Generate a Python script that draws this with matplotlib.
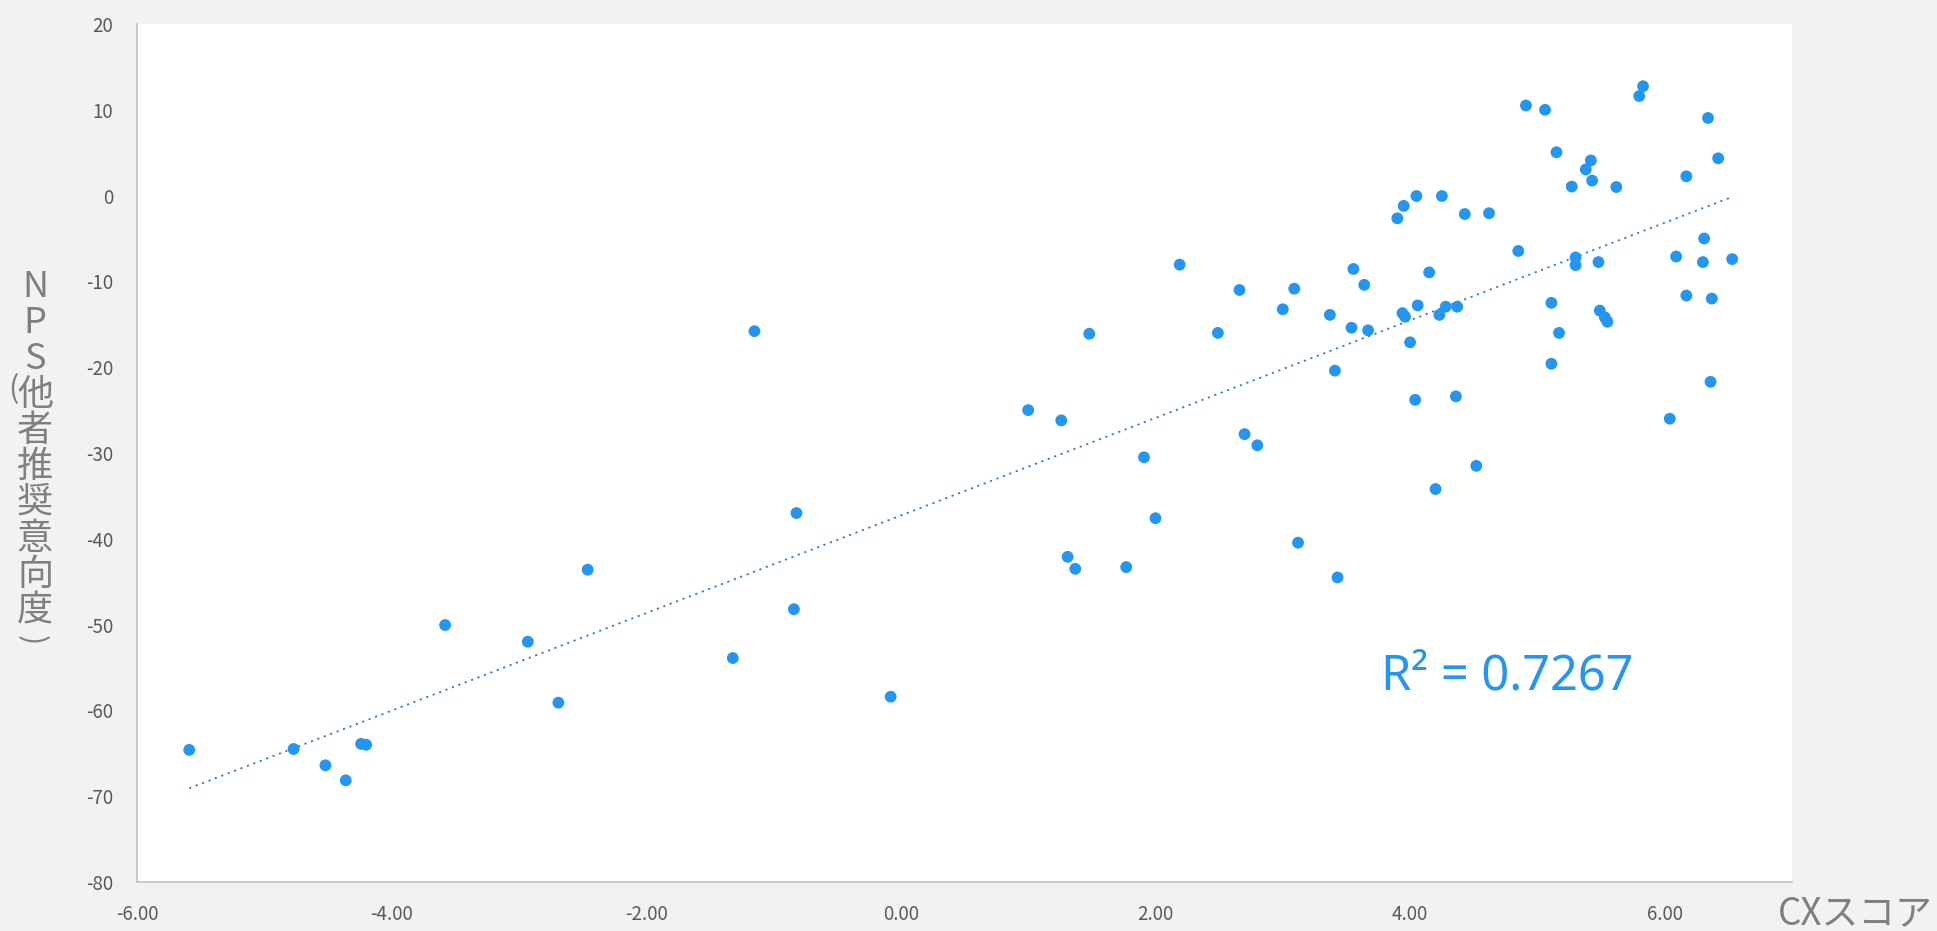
import numpy as np
import matplotlib
matplotlib.use("Agg")
import matplotlib.pyplot as plt
from matplotlib.ticker import FixedLocator, FuncFormatter

plt.rcParams['font.family'] = ['Noto Sans CJK JP', 'DejaVu Sans']
plt.rcParams['axes.unicode_minus'] = False

# CX score vs NPS per respondent group
cx_score = [
    -5.59, -4.77, -4.52, -4.36, -4.24, -4.20, -3.58, -2.93, -2.69, -2.46,
    -1.32, -1.15, -0.82, -0.84, -0.08,
    1.00, 1.26, 1.31, 1.37, 1.48, 1.77, 1.91, 2.00, 2.19, 2.49,
    2.66, 2.70, 2.80, 3.00, 3.09, 3.12, 3.37, 3.41, 3.43,
    3.54, 3.555, 3.64, 3.67, 3.90, 3.94, 3.96, 3.95, 4.00, 4.04,
    4.05, 4.06, 4.15, 4.20, 4.23, 4.25, 4.28, 4.36, 4.37, 4.43,
    4.52, 4.62, 4.85, 4.91, 5.06, 5.11, 5.11, 5.15, 5.17, 5.27,
    5.30, 5.30, 5.38, 5.42, 5.43, 5.48, 5.49, 5.53, 5.55, 5.62,
    5.80, 5.83, 6.04, 6.09, 6.17, 6.17, 6.30, 6.31, 6.34, 6.36,
    6.37, 6.42, 6.53,
]
nps = [
    -64.6, -64.5, -66.4, -68.15, -63.9, -64.0, -50.05, -52.0, -59.1, -43.6,
    -53.9, -15.8, -37.0, -48.2, -58.4,
    -25.0, -26.2, -42.1, -43.5, -16.1, -43.3, -30.5, -37.6, -8.05, -16.0,
    -11.0, -27.8, -29.1, -13.25, -10.85, -40.45, -13.9, -20.4, -44.5,
    -15.4, -8.55, -10.4, -15.7, -2.65, -13.7, -14.1, -1.2, -17.1, -23.8,
    -0.05, -12.8, -8.95, -34.2, -13.9, -0.05, -12.95, -23.4, -12.95, -2.15,
    -31.5, -2.05, -6.45, 10.5, 10.0, -12.5, -19.6, 5.05, -16.0, 1.05,
    -7.2, -8.1, 3.05, 4.1, 1.75, -7.75, -13.4, -14.2, -14.7, 1.0,
    11.6, 12.75, -26.0, -7.1, 2.25, -11.65, -7.75, -5.0, 9.05, -21.7,
    -12.0, 4.35, -7.4,
]
r2_label = "R² = 0.7267"
x_ticks = [-6, -4, -2, 0, 2, 4, 6]
y_ticks = [-80, -70, -60, -50, -40, -30, -20, -10, 0, 10, 20]

W, H = 1937, 931
bg = '#F1F2F4'
dot = '#2196F3'
tick_col = '#595959'
label_col = '#7F7F7F'

fig = plt.figure(figsize=(W / 100, H / 100), dpi=100, facecolor=bg)
ax = fig.add_axes([137 / W, 1 - 882 / H, (1792 - 137) / W, (882 - 24) / H])
ax.set_facecolor('white')

ax.scatter(cx_score, nps, s=72, color=dot, edgecolors='none', zorder=3)

# linear trend over the data range
slope, icpt = np.polyfit(cx_score, nps, 1)
xs = np.array([min(cx_score), max(cx_score)])
ax.plot(xs, slope * xs + icpt, color='#2F80C8', lw=1.3,
        linestyle=(0, (1.2, 2.6)), zorder=2)

ax.set_xlim(-6, 7)
ax.set_ylim(-80, 20)
ax.xaxis.set_major_locator(FixedLocator(x_ticks))
ax.yaxis.set_major_locator(FixedLocator(y_ticks))
ax.xaxis.set_major_formatter(FuncFormatter(lambda v, p: f"{v:.2f}"))
ax.yaxis.set_major_formatter(FuncFormatter(lambda v, p: f"{v:.0f}"))
ax.tick_params(axis='both', length=0, labelsize=13.5, labelcolor=tick_col)
ax.tick_params(axis='y', pad=17)
ax.tick_params(axis='x', pad=16)

for side in ['top', 'right']:
    ax.spines[side].set_visible(False)
for side in ['left', 'bottom']:
    ax.spines[side].set_color('#C0C0C0')
    ax.spines[side].set_linewidth(1.2)

ax.text(0.828, 0.240, r2_label, transform=ax.transAxes, ha='center',
        va='center', fontsize=35, color=dot, family=['Noto Sans', 'DejaVu Sans'])

# vertical stacked y label, parentheses drawn beside the column
fig.text(35 / W, 1 - 269 / H, '\n'.join('NPS他者推奨意向度'), ha='center',
         va='top', fontsize=26, color=label_col, linespacing=1.0)
fig.text(13 / W, 1 - 390 / H, '(', ha='center', va='center',
         fontsize=22, color=label_col)
fig.text(31 / W, 1 - 640 / H, ')', ha='center', va='center',
         fontsize=22, color=label_col, rotation=-90)

fig.text(1933 / W, 1 - 914 / H, 'CXスコア', ha='right', va='center',
         fontsize=26.5, color=label_col)

fig.savefig('out.png', dpi=100, facecolor=bg)
